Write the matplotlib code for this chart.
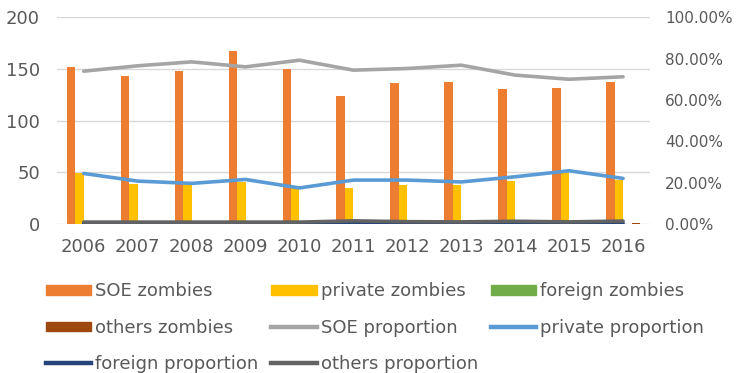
import numpy as np
import matplotlib
matplotlib.use('Agg')
import matplotlib.pyplot as plt
from matplotlib.patches import Patch
from matplotlib.lines import Line2D

years = ['2006', '2007', '2008', '2009', '2010', '2011', '2012', '2013', '2014', '2015', '2016']

# zombie counts (left axis)
soe_zombies = [152, 143, 148, 167, 150, 124, 136, 137, 131, 132, 137]
private_zombies = [49, 39, 38, 41, 35, 35, 38, 38, 42, 49, 43]
foreign_zombies = [0.4, 0.4, 0.4, 0.4, 0.4, 0.4, 0.4, 0.4, 0.4, 0.4, 0.6]
others_zombies = [0.3, 0.3, 0.3, 0.3, 0.3, 0.3, 0.3, 0.3, 0.3, 0.3, 1.5]

# proportions (right axis)
soe_prop = [0.739, 0.765, 0.784, 0.760, 0.792, 0.744, 0.752, 0.768, 0.720, 0.700, 0.712]
private_prop = [0.245, 0.208, 0.197, 0.216, 0.175, 0.213, 0.213, 0.204, 0.229, 0.258, 0.221]
foreign_prop = [0.003, 0.003, 0.003, 0.003, 0.003, 0.004, 0.003, 0.003, 0.004, 0.003, 0.004]
others_prop = [0.010, 0.010, 0.010, 0.010, 0.010, 0.016, 0.012, 0.011, 0.014, 0.011, 0.015]

c_soe = '#ED7D31'
c_priv = '#FFC000'
c_for = '#70AD47'
c_oth = '#9E480E'
c_soe_l = '#A5A5A5'
c_priv_l = '#5B9BD5'
c_for_l = '#264478'
c_oth_l = '#636363'
txt = '#595959'

fig = plt.figure(figsize=(7.37, 3.73), dpi=100)
ax = fig.add_axes([0.077, 0.399, 0.805, 0.555])
ax2 = ax.twinx()

x = np.arange(len(years))
w = 0.157
ax.bar(x - 1.5 * w, soe_zombies, w, color=c_soe, zorder=2)
ax.bar(x - 0.5 * w, private_zombies, w, color=c_priv, zorder=2)
ax.bar(x + 0.5 * w, foreign_zombies, w, color=c_for, zorder=2)
ax.bar(x + 1.5 * w, others_zombies, w, color=c_oth, zorder=2)

ax2.plot(x, soe_prop, color=c_soe_l, lw=2.6, solid_capstyle='round')
ax2.plot(x, private_prop, color=c_priv_l, lw=2.6, solid_capstyle='round')
ax2.plot(x, foreign_prop, color=c_for_l, lw=2.6, solid_capstyle='round')
ax2.plot(x, others_prop, color=c_oth_l, lw=2.6, solid_capstyle='round')

ax.set_xlim(-0.5, 10.5)
ax.set_ylim(0, 200)
ax.set_yticks([0, 50, 100, 150, 200])
ax2.set_ylim(0, 1)
ax2.set_yticks([0, 0.2, 0.4, 0.6, 0.8, 1.0])
ax2.set_yticklabels(['%.2f%%' % (v * 100) for v in [0, 0.2, 0.4, 0.6, 0.8, 1.0]])
ax.set_xticks(x)
ax.set_xticklabels(years)

ax.grid(axis='y', color='#D9D9D9', lw=1, zorder=0)
ax.set_axisbelow(True)
for a in (ax, ax2):
    for s in a.spines.values():
        s.set_visible(False)
    a.tick_params(length=0, labelsize=13, colors=txt)
ax2.tick_params(axis='y', labelsize=11, pad=11)
ax.tick_params(axis='y', pad=12)
ax.tick_params(axis='x', pad=10)

# legend, filled row by row like Excel
handles = [
    Patch(color=c_soe), Patch(color=c_priv), Patch(color=c_for),
    Patch(color=c_oth), Line2D([], [], color=c_soe_l, lw=3.2),
    Line2D([], [], color=c_priv_l, lw=3.2), Line2D([], [], color=c_for_l, lw=3.2),
    Line2D([], [], color=c_oth_l, lw=3.2),
]
labels = ['SOE zombies', 'private zombies', 'foreign zombies', 'others zombies',
          'SOE proportion', 'private proportion', 'foreign proportion', 'others proportion']
order = [0, 3, 6, 1, 4, 7, 2, 5]
leg = fig.legend([handles[i] for i in order], [labels[i] for i in order],
                 ncol=3, loc='upper left', bbox_to_anchor=(0.052, 0.262),
                 borderaxespad=0, frameon=False, fontsize=13,
                 handlelength=2.5, handleheight=0.4,
                 handletextpad=0.22, columnspacing=0.75, labelspacing=1.0)
for t in leg.get_texts():
    t.set_color(txt)

fig.savefig('out.png', dpi=100)
